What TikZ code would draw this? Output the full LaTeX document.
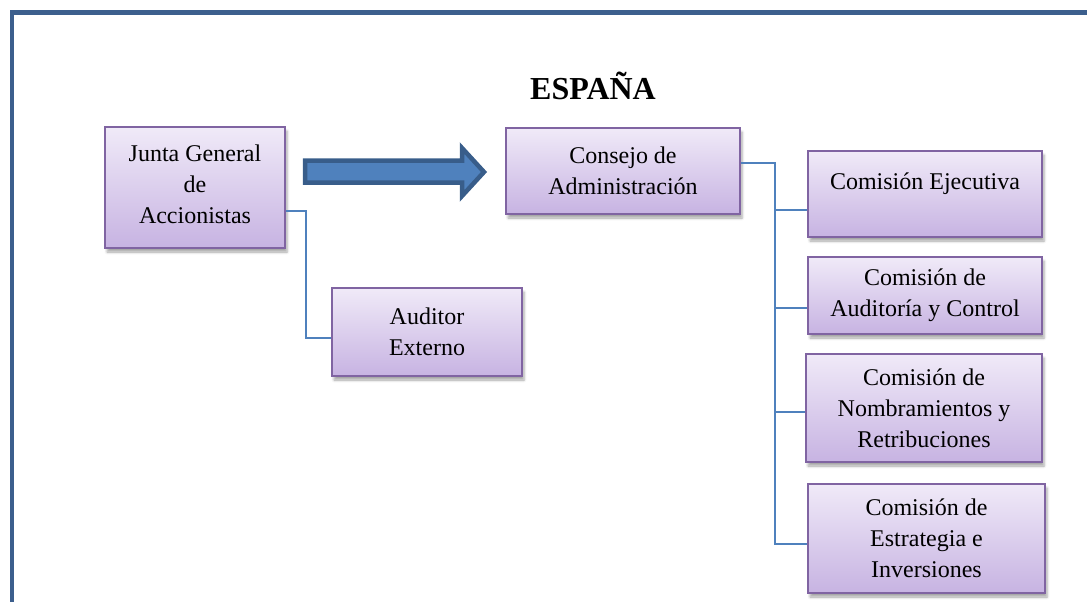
\documentclass[tikz,border=0pt]{standalone}
\usepackage{fontspec}
\setmainfont{Liberation Serif}
\usetikzlibrary{shadows.blur}

\definecolor{framecol}{HTML}{3C5F8D}
\definecolor{boxline}{HTML}{8064A2}
\definecolor{boxtop}{HTML}{F0EAF8}
\definecolor{boxbot}{HTML}{C7B3E2}
\definecolor{linkcol}{HTML}{4F81BD}
\definecolor{arrowfill}{HTML}{4F81BD}
\definecolor{arrowline}{HTML}{385D8A}

\tikzset{
  orgbox/.style={draw=boxline, line width=1.5pt, top color=boxtop, bottom color=boxbot,
    align=center, inner sep=0pt, font=\fontsize{24}{31}\selectfont,
    blur shadow={shadow xshift=2pt, shadow yshift=-4pt, shadow blur radius=2.5pt,
      shadow opacity=35}},
  link/.style={draw=linkcol, line width=1.5pt},
}

\begin{document}
\begin{tikzpicture}[x=1pt, y=-1pt]
  \useasboundingbox (0,0) rectangle (1087,602);

  % outer frame (top and left edges)
  \draw[framecol, line width=4.5pt] (12,606) -- (12,12.5) -- (1092,12.5);

  % title
  \node (titulo) at (593,86) {\fontsize{32}{38}\selectfont\bfseries ESPAÑA};

  % boxes
  \node[orgbox, minimum width=180pt, minimum height=121pt] (junta) at (195,187.5)
    {Junta General\\de\\Accionistas\\[-25pt]\mbox{}};
  \node[orgbox, minimum width=190pt, minimum height=88pt] (auditor) at (427,332)
    {Auditor\\Externo};
  \node[orgbox, minimum width=234pt, minimum height=86pt] (consejo) at (623,171)
    {Consejo de\\Administración};
  \node[orgbox, minimum width=234pt, minimum height=86pt] (ejecutiva) at (925,194)
    {Comisión Ejecutiva\\[-6pt]\mbox{}};
  \node[orgbox, minimum width=234pt, minimum height=77pt] (auditoria) at (925,295.5)
    {Comisión de\\Auditoría y Control};
  \node[orgbox, minimum width=236pt, minimum height=108pt] (nombramientos) at (924,408)
    {Comisión de\\Nombramientos y\\Retribuciones};
  \node[orgbox, minimum width=237pt, minimum height=109pt] (estrategia) at (926.5,538.5)
    {Comisión de\\Estrategia e\\Inversiones};

  % block arrow from the shareholders' meeting to the board
  \draw[arrowline, fill=arrowfill, line width=4.5pt, line join=miter]
    (305,160.5) -- (462,160.5) -- (462,148) -- (484,172) -- (462,196) -- (462,182.5)
    -- (305,182.5) -- cycle;

  % connectors
  \coordinate (jbus) at (306,211);
  \coordinate (jbusend) at (306,338);
  \draw[link] (junta.east |- jbus) -- (jbus) -- (jbusend) -- (auditor.west |- jbusend);

  \coordinate (cbus) at (775,163);
  \coordinate (cbusend) at (775,544);
  \draw[link] (consejo.east |- cbus) -- (cbus) -- (cbusend) -- (estrategia.west |- cbusend);
  \draw[link] (775,210) -- (ejecutiva.west |- 0,210);
  \draw[link] (775,308) -- (auditoria.west |- 0,308);
  \draw[link] (775,412) -- (nombramientos.west |- 0,412);
\end{tikzpicture}
\end{document}
